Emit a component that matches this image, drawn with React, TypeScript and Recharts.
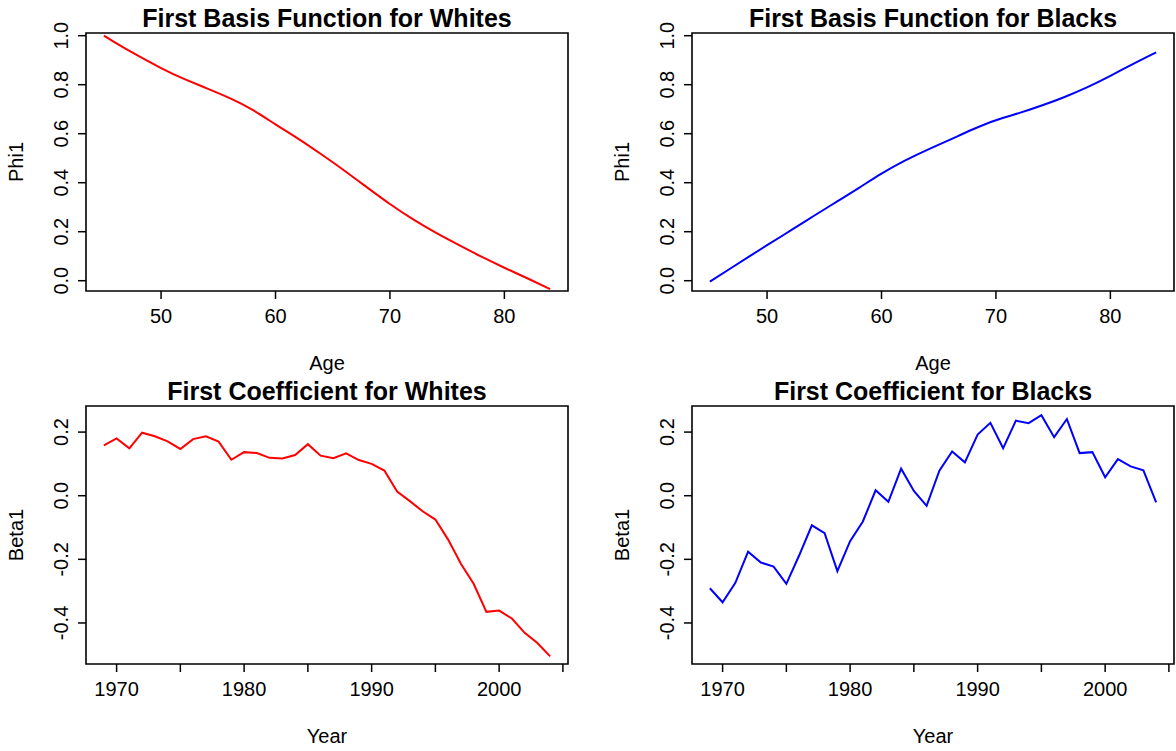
import React from 'react';
import { LineChart, Line, XAxis, YAxis, ReferenceArea } from 'recharts';

// basis functions
const ages = [45, 47, 50, 52, 54, 56, 58, 60, 62, 64, 66, 68, 70, 72, 74, 76, 78, 80, 82, 84];
const phiWhites = [1.0, 0.944, 0.868, 0.824, 0.785, 0.745, 0.697, 0.638, 0.579, 0.516, 0.45, 0.381, 0.313, 0.251, 0.196, 0.146, 0.098, 0.053, 0.01, -0.034];
const phiBlacks = [-0.004, 0.056, 0.145, 0.203, 0.262, 0.32, 0.378, 0.437, 0.489, 0.534, 0.576, 0.618, 0.655, 0.684, 0.715, 0.75, 0.79, 0.836, 0.885, 0.932];

// yearly coefficients 1969-2004
const years = [
  1969, 1970, 1971, 1972, 1973, 1974, 1975, 1976, 1977, 1978, 1979, 1980,
  1981, 1982, 1983, 1984, 1985, 1986, 1987, 1988, 1989, 1990, 1991, 1992,
  1993, 1994, 1995, 1996, 1997, 1998, 1999, 2000, 2001, 2002, 2003, 2004,
];
const betaWhites = [
  0.158, 0.18, 0.149, 0.198, 0.187, 0.171, 0.147, 0.178, 0.187, 0.17, 0.113, 0.137,
  0.134, 0.119, 0.117, 0.128, 0.162, 0.126, 0.118, 0.133, 0.112, 0.1, 0.079, 0.013,
  -0.017, -0.049, -0.075, -0.138, -0.214, -0.277, -0.365, -0.361, -0.386, -0.431, -0.463, -0.505,
];
const betaBlacks = [
  -0.291, -0.335, -0.274, -0.176, -0.21, -0.223, -0.277, -0.188, -0.093, -0.118, -0.237, -0.143,
  -0.081, 0.017, -0.019, 0.085, 0.015, -0.032, 0.079, 0.139, 0.105, 0.192, 0.229, 0.149,
  0.236, 0.228, 0.253, 0.184, 0.241, 0.134, 0.137, 0.058, 0.115, 0.092, 0.08, -0.021,
];

const ageTicks = [50, 60, 70, 80];
const yearTicks = [1970, 1975, 1980, 1985, 1990, 1995, 2000, 2005];
const phiTicks = [0, 0.2, 0.4, 0.6, 0.8, 1.0];
const betaTicks = [-0.4, -0.2, 0, 0.2];

const FONT = '"Liberation Sans", Arial, Helvetica, sans-serif';

const YTick = (props: any) => {
  const { x, y, payload } = props;
  return (
    <text
      x={x}
      y={y}
      transform={`rotate(-90 ${x} ${y})`}
      textAnchor="middle"
      fontSize={20}
      fill="#000"
      fontFamily={FONT}
    >
      {Number(payload.value).toFixed(1)}
    </text>
  );
};

interface PanelProps {
  left: number;
  top: number;
  title: string;
  data: { x: number; y: number }[];
  color: string;
  curve: 'natural' | 'linear';
  xDomain: [number, number];
  xTicks: number[];
  xFmt: (v: number) => string;
  yDomain: [number, number];
  yTicks: number[];
  xLabel: string;
  yLabel: string;
}

const Panel: React.FC<PanelProps> = ({
  left, top, title, data, color, curve, xDomain, xTicks, xFmt, yDomain, yTicks, xLabel, yLabel,
}) => (
  <>
    <div
      style={{
        position: 'absolute', left: left + 86, top: top + 3, width: 482,
        textAlign: 'center', fontFamily: FONT, fontWeight: 'bold', fontSize: 25, lineHeight: '30px',
      }}
    >
      {title}
    </div>
    <div style={{ position: 'absolute', left, top }}>
      <LineChart
        width={570}
        height={375}
        data={data}
        margin={{ top: 33, right: 2, bottom: 54, left: 0 }}
      >
        <XAxis
          dataKey="x"
          type="number"
          domain={xDomain}
          allowDataOverflow
          ticks={xTicks}
          interval={0}
          tickFormatter={xFmt}
          axisLine={false}
          tickLine={{ stroke: '#000', strokeWidth: 1.5 }}
          tickSize={8}
          tickMargin={10}
          height={30}
          tick={{ fontSize: 20, fill: '#000', fontFamily: FONT }}
        />
        <YAxis
          type="number"
          domain={yDomain}
          allowDataOverflow
          ticks={yTicks}
          interval={0}
          axisLine={false}
          tickLine={{ stroke: '#000', strokeWidth: 1.5 }}
          tickSize={8}
          tickMargin={10}
          width={86}
          tick={<YTick />}
        />
        <ReferenceArea
          x1={xDomain[0]}
          x2={xDomain[1]}
          y1={yDomain[0]}
          y2={yDomain[1]}
          fill="none"
          fillOpacity={0}
          stroke="#000"
          strokeWidth={1.6}
          ifOverflow="visible"
        />
        <Line
          type={curve}
          dataKey="y"
          stroke={color}
          strokeWidth={2}
          dot={false}
          isAnimationActive={false}
        />
      </LineChart>
    </div>
    <div
      style={{
        position: 'absolute', left: left + 86, top: top + 351, width: 482,
        textAlign: 'center', fontFamily: FONT, fontSize: 20, lineHeight: '24px',
      }}
    >
      {xLabel}
    </div>
    <div
      style={{
        position: 'absolute', left: left + 16, top: top + 162,
        transform: 'translate(-50%, -50%) rotate(-90deg)', whiteSpace: 'nowrap',
        fontFamily: FONT, fontSize: 20, lineHeight: '24px',
      }}
    >
      {yLabel}
    </div>
  </>
);

const zip = (xs: number[], ys: number[]) => xs.map((x, i) => ({ x, y: ys[i] }));
const fmtAge = (v: number) => String(v);
const fmtYear = (v: number) => (v % 10 === 0 ? String(v) : '');

export default function App() {
  const ageDomain: [number, number] = [43.44, 85.56];
  const yearDomain: [number, number] = [1967.6, 2005.4];
  const phiDomain: [number, number] = [-0.042, 1.011];
  const betaDomain: [number, number] = [-0.529, 0.282];

  return (
    <div style={{ position: 'absolute', left: 0, top: 0, width: 1176, height: 751, background: '#fff' }}>
      <Panel
        left={0} top={0}
        title="First Basis Function for Whites"
        data={zip(ages, phiWhites)} color="#ff0000" curve="natural"
        xDomain={ageDomain} xTicks={ageTicks} xFmt={fmtAge}
        yDomain={phiDomain} yTicks={phiTicks}
        xLabel="Age" yLabel="Phi1"
      />
      <Panel
        left={606} top={0}
        title="First Basis Function for Blacks"
        data={zip(ages, phiBlacks)} color="#0000ff" curve="natural"
        xDomain={ageDomain} xTicks={ageTicks} xFmt={fmtAge}
        yDomain={phiDomain} yTicks={phiTicks}
        xLabel="Age" yLabel="Phi1"
      />
      <Panel
        left={0} top={373}
        title="First Coefficient for Whites"
        data={zip(years, betaWhites)} color="#ff0000" curve="linear"
        xDomain={yearDomain} xTicks={yearTicks} xFmt={fmtYear}
        yDomain={betaDomain} yTicks={betaTicks}
        xLabel="Year" yLabel="Beta1"
      />
      <Panel
        left={606} top={373}
        title="First Coefficient for Blacks"
        data={zip(years, betaBlacks)} color="#0000ff" curve="linear"
        xDomain={yearDomain} xTicks={yearTicks} xFmt={fmtYear}
        yDomain={betaDomain} yTicks={betaTicks}
        xLabel="Year" yLabel="Beta1"
      />
    </div>
  );
}
